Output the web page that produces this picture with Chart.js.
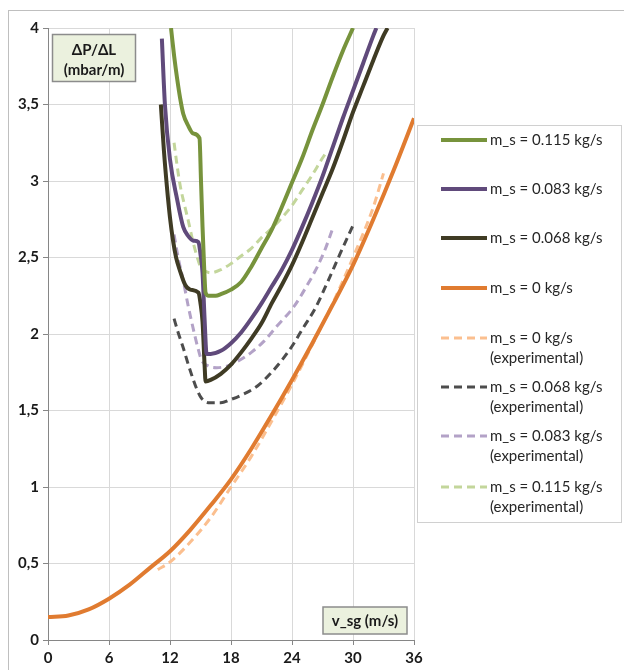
<!DOCTYPE html>
<html>
<head>
<meta charset="utf-8">
<script src="https://cdn.jsdelivr.net/npm/chart.js@4"></script>
<style>
  html, body { margin: 0; padding: 0; background: #fff; }
  #wrap { width: 624px; height: 670px; position: relative; }
</style>
</head>
<body>
<div id="wrap"><canvas id="dpChart" width="624" height="670"></canvas></div>
<script>
// Axis ticks
const xTicks = [0, 6, 12, 18, 24, 30, 36];
const yTicks = [0, 0.5, 1, 1.5, 2, 2.5, 3, 3.5, 4];

// m_s = 0 kg/s (model)
const vsg0 = [0, 2, 4, 6, 8, 10, 12, 14, 16, 18, 20, 22, 24, 26, 28, 30, 32, 34, 36];
const dp0 = [0.15, 0.16, 0.2, 0.27, 0.36, 0.47, 0.58, 0.72, 0.88, 1.05, 1.25, 1.47, 1.7, 1.94, 2.19, 2.45, 2.75, 3.07, 3.41];

// m_s = 0 kg/s (experimental)
const vsg0Exp = [10.8, 12, 14, 16, 18, 20, 22, 24, 26, 28, 30, 32, 33];
const dp0Exp = [0.46, 0.51, 0.64, 0.8, 1.0, 1.2, 1.43, 1.67, 1.93, 2.2, 2.5, 2.83, 3.05];

// m_s = 0.115 kg/s (model)
const vsg115 = [12.1, 12.4, 12.7, 13.0, 13.3, 13.8, 14.3, 14.9, 15.05, 15.2, 15.35, 15.5, 15.8, 16.5, 17, 18, 19, 20, 21, 22, 23, 24, 25, 26, 27, 28, 29, 30];
const dp115 = [4.0, 3.82, 3.67, 3.54, 3.44, 3.36, 3.31, 3.28, 3.0, 2.7, 2.45, 2.27, 2.25, 2.25, 2.26, 2.29, 2.34, 2.44, 2.56, 2.68, 2.83, 2.99, 3.15, 3.33, 3.5, 3.68, 3.85, 4.0];

// m_s = 0.115 kg/s (experimental)
const vsg115Exp = [12.4, 12.7, 13.0, 13.4, 13.8, 14.2, 14.6, 15.0, 15.5, 16, 17, 18, 19, 20, 21, 22, 23, 24, 25, 26, 27, 27.5];
const dp115Exp = [3.25, 3.1, 2.97, 2.85, 2.74, 2.62, 2.52, 2.44, 2.41, 2.4, 2.42, 2.46, 2.51, 2.56, 2.63, 2.69, 2.76, 2.84, 2.94, 3.04, 3.15, 3.2];

// m_s = 0.083 kg/s (model)
const vsg083 = [11.2, 11.5, 12, 12.7, 13.3, 13.8, 14.3, 14.8, 15.0, 15.2, 15.4, 15.6, 16, 17, 18, 19, 20, 21, 22, 23, 24, 25, 26, 27, 28, 29, 30, 31, 32, 32.3];
const dp083 = [3.93, 3.5, 3.14, 2.88, 2.70, 2.64, 2.61, 2.60, 2.52, 2.4, 2.1, 1.87, 1.87, 1.89, 1.94, 2.01, 2.1, 2.2, 2.31, 2.42, 2.55, 2.7, 2.86, 3.03, 3.22, 3.41, 3.59, 3.77, 3.95, 4.0];

// m_s = 0.083 kg/s (experimental)
const vsg083Exp = [12.4, 12.8, 13.3, 13.8, 14.3, 14.7, 15.1, 15.8, 16.6, 17.6, 18.6, 20, 21.2, 22.5, 24.2, 25.5, 26.5, 27.3, 28];
const dp083Exp = [2.65, 2.5, 2.35, 2.18, 2.03, 1.92, 1.83, 1.79, 1.78, 1.79, 1.82, 1.88, 1.95, 2.05, 2.18, 2.32, 2.44, 2.56, 2.69];

// m_s = 0.068 kg/s (model)
const vsg068 = [11.1, 11.4, 11.7, 12, 12.3, 12.6, 13, 13.5, 14, 14.8, 15.0, 15.2, 15.4, 15.5, 16, 17, 18, 19, 20, 21, 22, 23, 24, 25, 26, 27, 28, 29, 30, 31, 32, 33, 33.4];
const dp068 = [3.5, 3.2, 2.96, 2.76, 2.61, 2.5, 2.41, 2.32, 2.29, 2.27, 2.2, 2.08, 1.8, 1.69, 1.7, 1.74, 1.8, 1.88, 1.97, 2.07, 2.2, 2.32, 2.45, 2.6, 2.76, 2.92, 3.08, 3.26, 3.45, 3.62, 3.79, 3.95, 4.0];

// m_s = 0.068 kg/s (experimental)
const vsg068Exp = [12.4, 12.8, 13.3, 13.8, 14.3, 14.7, 15.1, 15.9, 17, 17.9, 19, 20.6, 22, 22.9, 24, 25.1, 26.3, 27.5, 28.7, 30];
const dp068Exp = [2.1, 2.01, 1.91, 1.8, 1.7, 1.63, 1.58, 1.55, 1.55, 1.57, 1.6, 1.66, 1.75, 1.82, 1.92, 2.04, 2.17, 2.34, 2.52, 2.71];

function pts(xs, ys) {
    return xs.map((x, i) => ({ x: x, y: ys[i] }));
}

function solid(label, xs, ys, color) {
    return { label: label, data: pts(xs, ys), borderColor: color, borderWidth: 4, borderDash: [], extra: null, order: 0 };
}
function dashed(label, xs, ys, color) {
    return { label: label, data: pts(xs, ys), borderColor: color, borderWidth: 3, borderDash: [8, 5], extra: '(experimental)', order: 1 };
}

// legend order follows the reference
const datasets = [
    solid('m_s = 0.115 kg/s', vsg115, dp115, '#77933c'),
    solid('m_s = 0.083 kg/s', vsg083, dp083, '#604a7b'),
    solid('m_s = 0.068 kg/s', vsg068, dp068, '#3f3b24'),
    solid('m_s = 0 kg/s', vsg0, dp0, '#e07b30'),
    dashed('m_s = 0 kg/s', vsg0Exp, dp0Exp, '#fbbf8f'),
    dashed('m_s = 0.068 kg/s', vsg068Exp, dp068Exp, '#4d4d4d'),
    dashed('m_s = 0.083 kg/s', vsg083Exp, dp083Exp, '#b3a2c7'),
    dashed('m_s = 0.115 kg/s', vsg115Exp, dp115Exp, '#c3d69b')
];

const legendRows = [140, 189, 238, 288, 338, 387, 436, 487];

const decorPlugin = {
    id: 'decor',
    beforeDraw(chart) {
        const ctx = chart.ctx;
        ctx.save();
        ctx.strokeStyle = '#bfbfbf';
        ctx.lineWidth = 1;
        ctx.strokeRect(8.5, 10.5, 700, 700);
        ctx.restore();
    },
    afterDraw(chart) {
        const ctx = chart.ctx;
        ctx.save();

        // axis title boxes
        function titleBox(x, y, w, h, lines, lineY) {
            ctx.fillStyle = '#ebf1de';
            ctx.fillRect(x, y, w, h);
            ctx.strokeStyle = '#8c8c8c';
            ctx.lineWidth = 1.5;
            ctx.strokeRect(x, y, w, h);
            ctx.fillStyle = '#1a1a1a';
            ctx.font = 'bold 15px Lato';
            ctx.textAlign = 'center';
            ctx.textBaseline = 'middle';
            lines.forEach((t, i) => ctx.fillText(t, x + w / 2, lineY[i]));
        }
        titleBox(52.5, 34.5, 83, 47, ['ΔP/ΔL', '(mbar/m)'], [50, 70]);
        titleBox(323, 607, 84, 27, ['v_sg (m/s)'], [621]);

        // legend
        ctx.fillStyle = '#ffffff';
        ctx.fillRect(417, 125, 205, 397);
        ctx.strokeStyle = '#d0d0d0';
        ctx.lineWidth = 1;
        ctx.strokeRect(417.5, 125.5, 204, 397);
        ctx.font = '15px Lato';
        ctx.textAlign = 'left';
        ctx.textBaseline = 'middle';
        chart.data.datasets.forEach((d, i) => {
            const y = legendRows[i];
            ctx.strokeStyle = d.borderColor;
            ctx.lineWidth = d.borderWidth;
            ctx.setLineDash(d.borderDash);
            ctx.beginPath();
            ctx.moveTo(441, y);
            ctx.lineTo(487, y);
            ctx.stroke();
            ctx.setLineDash([]);
            ctx.fillStyle = '#262626';
            ctx.fillText(d.label, 490, y);
            if (d.extra) ctx.fillText(d.extra, 490, y + 20);
        });
        ctx.restore();
    }
};

new Chart(document.getElementById('dpChart'), {
    type: 'line',
    data: { datasets: datasets },
    plugins: [decorPlugin],
    options: {
        responsive: false,
        animation: false,
        events: [],
        layout: { padding: { left: 0, right: 210, top: 28, bottom: 0 } },
        elements: {
            point: { radius: 0 },
            line: { cubicInterpolationMode: 'monotone', borderCapStyle: 'butt', fill: false }
        },
        plugins: { legend: { display: false }, tooltip: { enabled: false } },
        scales: {
            x: {
                type: 'linear', min: 0, max: 36,
                afterFit: (s) => { s.height = 30; },
                afterBuildTicks: (s) => { s.ticks = xTicks.map(v => ({ value: v })); },
                grid: { color: '#d9d9d9', tickColor: '#868686', tickLength: 5, lineWidth: 1 },
                border: { color: '#868686', width: 1 },
                ticks: { color: '#1a1a1a', font: { family: 'Lato', size: 15, weight: 'bold' }, padding: 4, maxRotation: 0 }
            },
            y: {
                type: 'linear', min: 0, max: 4,
                afterFit: (s) => { s.width = 48; },
                afterBuildTicks: (s) => { s.ticks = yTicks.map(v => ({ value: v })); },
                grid: { color: '#d9d9d9', tickColor: '#868686', tickLength: 5, lineWidth: 1 },
                border: { color: '#868686', width: 1 },
                ticks: {
                    color: '#1a1a1a', font: { family: 'Lato', size: 15, weight: 'bold' }, padding: 4,
                    callback: (v) => String(v).replace('.', ',')
                }
            }
        }
    }
});
</script>
</body>
</html>
